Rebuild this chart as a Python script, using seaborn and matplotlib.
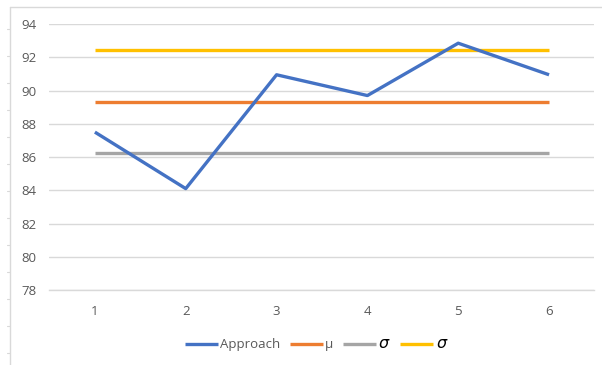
import matplotlib
matplotlib.use("Agg")
import matplotlib.pyplot as plt
from matplotlib.lines import Line2D
import seaborn as sns
import pandas as pd

# Trial numbers and measured values
trials = [1, 2, 3, 4, 5, 6]
approach = [87.5, 84.1, 90.95, 89.7, 92.85, 90.95]
# Mean and mean ± one standard deviation
mu = 89.34
sigma_low = 86.23
sigma_high = 92.45

series_names = ["Approach", "μ", "$\\sigma$", "$\\sigma$"]
series_colors = ["#4472C4", "#ED7D31", "#A5A5A5", "#FFC000"]
y_ticks = [78, 80, 82, 84, 86, 88, 90, 92, 94]

sns.set_theme(style="white")
plt.rcParams["font.family"] = ["Open Sans", "DejaVu Sans"]
plt.rcParams["mathtext.fontset"] = "dejavusans"

fig = plt.figure(figsize=(6.02, 3.65), dpi=100)
ax = fig.add_axes([0.0822, 0.2055, 0.9053, 0.7285])

frames = [
    (pd.DataFrame({"trial": trials, "value": approach}), 0),
    (pd.DataFrame({"trial": trials, "value": [mu] * len(trials)}), 1),
    (pd.DataFrame({"trial": trials, "value": [sigma_low] * len(trials)}), 2),
    (pd.DataFrame({"trial": trials, "value": [sigma_high] * len(trials)}), 3),
]
zorders = [5, 3, 3, 3]
for df, i in frames:
    sns.lineplot(data=df, x="trial", y="value", ax=ax, color=series_colors[i],
                 linewidth=2.4, label=series_names[i], zorder=zorders[i],
                 solid_capstyle="butt")

ax.set_xlim(0.5, 6.5)
ax.set_ylim(78, 94)
ax.set_yticks(y_ticks)
ax.set_xticks(trials)
ax.set_xticklabels([str(t) for t in trials])
ax.set_xlabel("")
ax.set_ylabel("")
ax.grid(axis="y", color="#D9D9D9", linewidth=1.0)
ax.set_axisbelow(True)
for side in ["top", "right", "left"]:
    ax.spines[side].set_visible(False)
ax.spines["bottom"].set_color("#D9D9D9")
ax.spines["bottom"].set_linewidth(1.0)
ax.tick_params(axis="both", length=0, colors="#595959", labelsize=9.5)
ax.tick_params(axis="y", pad=9.5)
ax.tick_params(axis="x", pad=11)

handles, labels = ax.get_legend_handles_labels()
leg = ax.legend(handles, labels, loc="upper center", bbox_to_anchor=(0.49, -0.13),
                ncol=4, frameon=False, fontsize=9.5, handlelength=2.5,
                handletextpad=0.2, columnspacing=0.7, labelcolor="#595959")
for t in leg.get_texts():
    if "sigma" in t.get_text():
        t.set_color("black")
        t.set_fontsize(11.5)

# Chart frame edges on the left and top
W, H = 602, 365
frame_color = "#D9D9D9"
fig.add_artist(Line2D([10 / W, 10 / W], [0, 1 - 7 / H], transform=fig.transFigure,
                      color=frame_color, linewidth=1.0))
fig.add_artist(Line2D([10 / W, 1], [1 - 7 / H, 1 - 7 / H], transform=fig.transFigure,
                      color=frame_color, linewidth=1.0))
for yy in range(29, 365, 27):
    fig.add_artist(Line2D([7 / W, 10 / W], [1 - yy / H, 1 - yy / H],
                          transform=fig.transFigure, color=frame_color, linewidth=0.8))

fig.savefig("out.png", dpi=100)
